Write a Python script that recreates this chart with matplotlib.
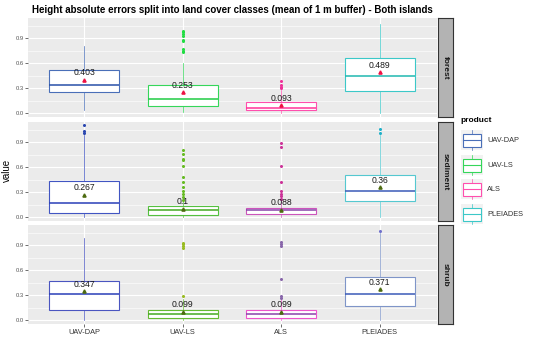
import matplotlib
matplotlib.use("Agg")
import matplotlib.pyplot as plt
from matplotlib.patches import Rectangle

plt.rcParams['font.family'] = ['Liberation Sans', 'DejaVu Sans']

products = ["UAV-DAP", "UAV-LS", "ALS", "PLEIADES"]
classes = ["forest", "sediment", "shrub"]
yticks = [0.0, 0.3, 0.6, 0.9]
ytick_labels = ["0.0", "0.3", "0.6", "0.9"]

# per class: q1, median, q3, whisker low, whisker high, mean (order of products)
forest_q1 = [0.26, 0.09, 0.035, 0.27]
forest_med = [0.34, 0.165, 0.063, 0.45]
forest_q3 = [0.52, 0.335, 0.14, 0.66]
forest_lo = [0.04, 0.015, 0.0, 0.0]
forest_hi = [0.80, 0.60, 0.28, 1.07]
forest_mean = [0.403, 0.253, 0.093, 0.489]
forest_out = [[], [0.99, 0.97, 0.95, 0.92, 0.88, 0.86, 0.77, 0.75, 0.73],
              [0.38, 0.34, 0.32, 0.30], []]

sediment_q1 = [0.056, 0.032, 0.044, 0.19]
sediment_med = [0.176, 0.084, 0.084, 0.32]
sediment_q3 = [0.436, 0.136, 0.112, 0.51]
sediment_lo = [0.0, 0.0, 0.0, 0.0]
sediment_hi = [0.98, 0.19, 0.19, 0.98]
sediment_mean = [0.267, 0.1, 0.088, 0.36]
sediment_out = [[1.10, 1.03, 1.01],
                [0.80, 0.76, 0.70, 0.68, 0.61, 0.48, 0.42, 0.36, 0.32, 0.28, 0.24, 0.21],
                [0.885, 0.84, 0.61, 0.42, 0.32, 0.28, 0.25, 0.22],
                [1.06, 1.01]]

shrub_q1 = [0.127, 0.032, 0.032, 0.17]
shrub_med = [0.317, 0.071, 0.07, 0.317]
shrub_q3 = [0.467, 0.127, 0.127, 0.52]
shrub_lo = [0.0, 0.0, 0.0, 0.0]
shrub_hi = [0.99, 0.25, 0.25, 1.05]
shrub_mean = [0.347, 0.099, 0.099, 0.371]
shrub_out = [[], [0.93, 0.91, 0.89, 0.86, 0.285],
             [0.94, 0.91, 0.89, 0.49, 0.29, 0.27], [1.07]]

mean_labels = {
    "forest": ["0.403", "0.253", "0.093", "0.489"],
    "sediment": ["0.267", "0.1", "0.088", "0.36"],
    "shrub": ["0.347", "0.099", "0.099", "0.371"],
}

data = {
    "forest": (forest_q1, forest_med, forest_q3, forest_lo, forest_hi, forest_mean, forest_out),
    "sediment": (sediment_q1, sediment_med, sediment_q3, sediment_lo, sediment_hi, sediment_mean, sediment_out),
    "shrub": (shrub_q1, shrub_med, shrub_q3, shrub_lo, shrub_hi, shrub_mean, shrub_out),
}

# styles
edge_colors = {
    "forest": ["#4a6fb8", "#35d65a", "#ff4fae", "#3cc8c8"],
    "sediment": ["#4155c2", "#55c040", "#cc55bb", "#55c8d0"],
    "shrub": ["#4a55c0", "#66bb33", "#ee55cc", "#7f95c8"],
}
median_colors = {
    "forest": ["#2850a8", "#20cc44", "#ff3399", "#20b8b0"],
    "sediment": ["#2a3fb8", "#44aa22", "#8844aa", "#3a5ab8"],
    "shrub": ["#2a3fb8", "#44aa22", "#8844aa", "#3a5ab8"],
}
flier_colors = {
    "forest": ["#3a5fb0", "#22dd44", "#ee3399", "#30c0c0"],
    "sediment": ["#2a46b0", "#66bb22", "#cc3399", "#20b0c8"],
    "shrub": ["#3a5fb0", "#99bb22", "#8866aa", "#7070cc"],
}
mean_colors = {"forest": "#ee1144", "sediment": "#4d6b10", "shrub": "#4d6b10"}

W, H = 550, 337
fig = plt.figure(figsize=(W / 100, H / 100), dpi=100)

px_l, px_r = 28, 437
panel_tops = [18, 122, 225]
panel_h = 99
strip_w = 15

positions = [1, 2, 3, 4]

for ci, cls in enumerate(classes):
    top = panel_tops[ci]
    ax = fig.add_axes([px_l / W, 1 - (top + panel_h) / H, (px_r - px_l) / W, panel_h / H])
    ax.set_facecolor("#EBEBEB")
    for s in ax.spines.values():
        s.set_visible(False)
    ax.set_xlim(0.43, 4.58)
    ax.set_ylim(-0.045, 1.14)
    # grid
    for m in [0.15, 0.45, 0.75, 1.05]:
        ax.axhline(m, color="white", lw=0.4, zorder=0)
    for m in yticks:
        ax.axhline(m, color="white", lw=0.8, zorder=0)
    for p in positions:
        ax.axvline(p, color="white", lw=0.8, zorder=0)

    q1, med, q3, lo, hi, mean, outs = data[cls]
    for i, p in enumerate(positions):
        st = [dict(med=med[i], q1=q1[i], q3=q3[i], whislo=lo[i], whishi=hi[i],
                   fliers=outs[i], mean=mean[i])]
        ec = edge_colors[cls][i]
        ax.bxp(st, positions=[p], widths=0.71, patch_artist=True, showcaps=False,
               showmeans=False, manage_ticks=False,
               boxprops=dict(facecolor="white", edgecolor=ec, linewidth=0.8),
               whiskerprops=dict(color=ec, linewidth=0.5),
               medianprops=dict(color=median_colors[cls][i], linewidth=1.1),
               flierprops=dict(marker="o", markersize=2.2, markerfacecolor=flier_colors[cls][i],
                               markeredgecolor="none"),
               zorder=2)
        ax.plot([p], [mean[i]], marker="^", color=mean_colors[cls], markersize=2.3,
                linestyle="none", zorder=4)
        ax.text(p, mean[i] + 0.085, mean_labels[cls][i], ha="center", va="center",
                fontsize=6.2, color="#1a1a1a", zorder=5)

    ax.set_yticks(yticks)
    ax.set_yticklabels(ytick_labels)
    ax.tick_params(axis="y", labelsize=4.2, labelcolor="#555555", color="#333333",
                   length=2, width=0.5, pad=1)
    ax.set_xticks(positions)
    if ci == 2:
        ax.set_xticklabels(products)
        ax.tick_params(axis="x", labelsize=5.3, labelcolor="#333333", color="#333333",
                       length=2, width=0.5, pad=1.5)
    else:
        ax.set_xticklabels([])
        ax.tick_params(axis="x", length=0)

    # strip
    sax = fig.add_axes([(px_r + 1) / W, 1 - (top + panel_h) / H, strip_w / W, panel_h / H])
    sax.set_xticks([])
    sax.set_yticks([])
    sax.set_facecolor("#b3b3b3")
    for s in sax.spines.values():
        s.set_color("#333333")
        s.set_linewidth(0.8)
    sax.text(0.5, 0.5, cls, rotation=270, ha="center", va="center", fontsize=6,
             fontweight="bold", color="#1a1a1a", transform=sax.transAxes)

fig.text(232 / W, 1 - 10 / H, "Height absolute errors split into land cover classes (mean of 1 m buffer) - Both islands",
         ha="center", va="center", fontsize=7.05, fontweight="bold")
fig.text(7 / W, 1 - 170 / H, "value", rotation=90, ha="center", va="center", fontsize=7)

# legend
lax = fig.add_axes([455 / W, 1 - 230 / H, 95 / W, 120 / H])
lax.set_xlim(455, 550)
lax.set_ylim(230, 110)
lax.axis("off")
lax.text(460, 121, "product", fontsize=6, fontweight="bold", ha="left", va="center")
key_y = [140, 165, 189, 214]
for i, name in enumerate(products):
    c = edge_colors["forest"][i]
    y = key_y[i]
    lax.add_patch(Rectangle((461, y - 10), 22, 20, facecolor="#f2f2f2", edgecolor="none"))
    lax.plot([472, 472], [y - 10, y - 6.5], color=c, lw=0.5)
    lax.plot([472, 472], [y + 6.5, y + 10], color=c, lw=0.5)
    lax.add_patch(Rectangle((463, y - 6.5), 18, 13, facecolor="white", edgecolor=c, lw=0.8))
    lax.plot([463, 481], [y, y], color=c, lw=0.8)
    lax.text(487, y, name, fontsize=5.3, ha="left", va="center", color="#333333")

fig.savefig("out.png", dpi=100)
